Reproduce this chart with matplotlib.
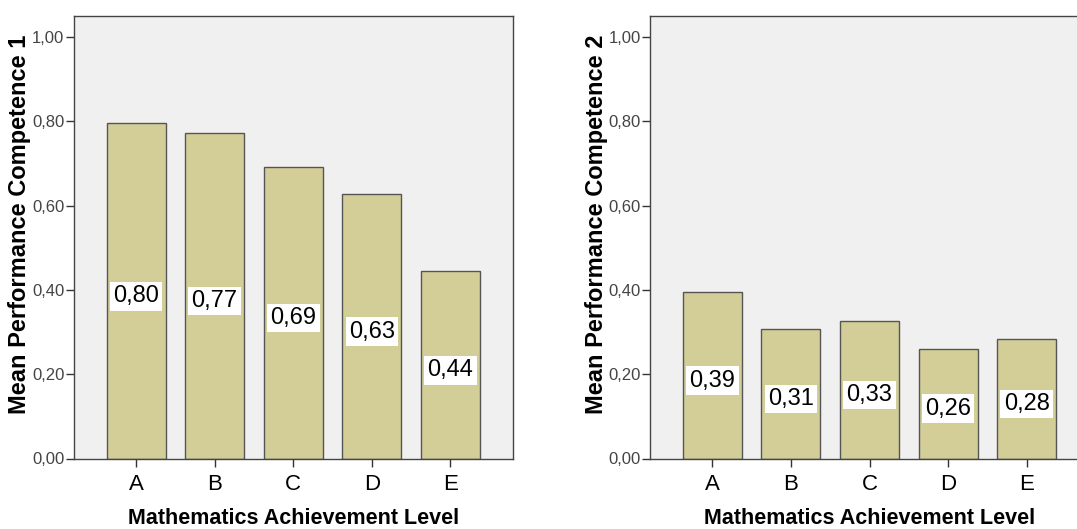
import matplotlib.pyplot as plt
import numpy as np

levels = ["A", "B", "C", "D", "E"]
comp1 = [0.795, 0.773, 0.692, 0.627, 0.444]
comp2 = [0.394, 0.307, 0.326, 0.261, 0.284]
comp1_labels = ["0,80", "0,77", "0,69", "0,63", "0,44"]
comp2_labels = ["0,39", "0,31", "0,33", "0,26", "0,28"]
yticks = [0.0, 0.2, 0.4, 0.6, 0.8, 1.0]
ytick_labels = ["0,00", "0,20", "0,40", "0,60", "0,80", "1,00"]

plt.rcParams['font.family'] = ['Liberation Sans', 'DejaVu Sans']

fig = plt.figure(figsize=(10.77, 5.29), dpi=100)
W, H = 1077, 529


def panel(left_px, vals, labels, ylabel):
    ax = fig.add_axes([left_px / W, 1 - 458.5 / H, 438.5 / W, (458.5 - 16) / H])
    ax.set_facecolor('#f0f0f0')
    x = np.arange(len(levels))
    ax.bar(x, vals, width=0.75, color='#d3ce98', edgecolor='#555555', linewidth=1.0)
    for xi, v, lab in zip(x, vals, labels):
        ax.annotate(lab, (xi, v / 2), xytext=(0, -2), textcoords='offset points',
                    ha='center', va='center_baseline', fontsize=17, color='black',
                    bbox=dict(boxstyle='square,pad=0.14', fc='white', ec='none'))
    ax.set_xlim(-0.79, 4.79)
    ax.set_ylim(0, 1.05)
    ax.set_xticks(x)
    ax.set_xticklabels(levels, fontsize=16)
    ax.set_yticks(yticks)
    ax.set_yticklabels(ytick_labels, fontsize=12, color='#444444')
    ax.tick_params(axis='x', length=6, width=1, color='#333333', pad=5)
    ax.tick_params(axis='y', length=6, width=1, color='#333333', pad=1)
    for s in ax.spines.values():
        s.set_color('#444444')
        s.set_linewidth(1)
    ax.set_ylabel(ylabel, fontsize=17, fontweight='bold', va='center')
    ax.yaxis.set_label_coords(-54 / 438.5, 0.53)
    ax.set_xlabel("Mathematics Achievement Level", fontsize=15.5, fontweight='bold',
                  va='center')
    ax.xaxis.set_label_coords(0.5, -60 / 442.5)
    return ax


panel(74, comp1, comp1_labels, "Mean Performance Competence 1")
panel(650.3, comp2, comp2_labels, "Mean Performance Competence 2")

fig.savefig("out.png", dpi=100)
